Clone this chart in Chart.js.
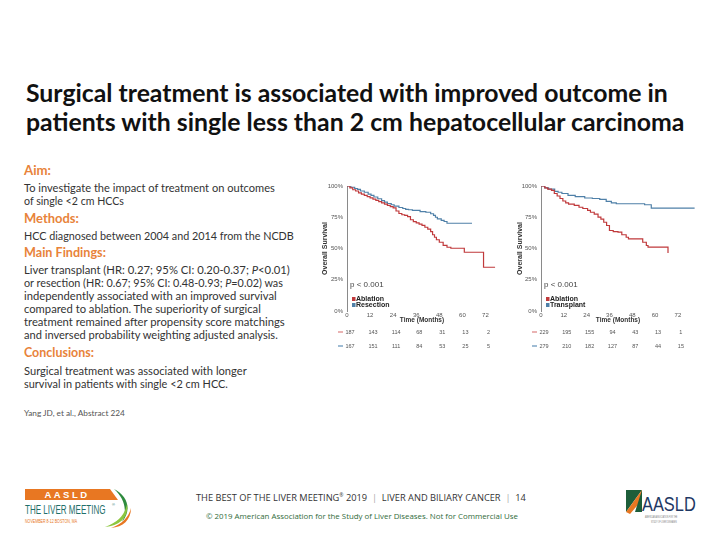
<!DOCTYPE html>
<html><head><meta charset="utf-8">
<script src="https://cdn.jsdelivr.net/npm/chart.js@4.4.0/dist/chart.umd.min.js"></script>
<style>
html,body{margin:0;padding:0;background:#fff;}
body{width:720px;height:540px;position:relative;overflow:hidden;font-family:Lato,"Open Sans",sans-serif;}
.t{position:absolute;white-space:nowrap;line-height:1;transform:translateY(-50%);}
.title{font-weight:bold;color:#111;font-size:24px;}
.h{font-weight:bold;color:#E8833A;font-size:13px;}
.b{color:#333;font-size:11px;}
canvas{position:absolute;}
</style></head><body>

<div class="t title" style="left:26px;top:93px" data-w="642">Surgical treatment is associated with improved outcome in</div>
<div class="t title" style="left:26px;top:121px" data-w="659">patients with single less than 2 cm hepatocellular carcinoma</div>

<div class="t h" style="left:24px;top:171px" data-w="27">Aim:</div>
<div class="t b" style="left:24px;top:188px" data-w="251">To investigate the impact of treatment on outcomes</div>
<div class="t b" style="left:24px;top:201px" data-w="100">of single &lt;2 cm HCCs</div>
<div class="t h" style="left:24px;top:218px" data-w="55">Methods:</div>
<div class="t b" style="left:24px;top:236px" data-w="270">HCC diagnosed between 2004 and 2014 from the NCDB</div>
<div class="t h" style="left:24px;top:253px" data-w="82">Main Findings:</div>
<div class="t b" style="left:24px;top:270px" data-w="266">Liver transplant (HR: 0.27; 95% CI: 0.20-0.37; <i>P</i>&lt;0.01)</div>
<div class="t b" style="left:24px;top:283px" data-w="259">or resection (HR: 0.67; 95% CI: 0.48-0.93; <i>P</i>=0.02) was</div>
<div class="t b" style="left:24px;top:296px" data-w="253">independently associated with an improved survival</div>
<div class="t b" style="left:24px;top:309px" data-w="237">compared to ablation. The superiority of surgical</div>
<div class="t b" style="left:24px;top:322px" data-w="261">treatment remained after propensity score matchings</div>
<div class="t b" style="left:24px;top:335px" data-w="254">and inversed probability weighting adjusted analysis.</div>
<div class="t h" style="left:24px;top:353px" data-w="70">Conclusions:</div>
<div class="t b" style="left:24px;top:371px" data-w="223">Surgical treatment was associated with longer</div>
<div class="t b" style="left:24px;top:384px" data-w="204">survival in patients with single &lt;2 cm HCC.</div>
<div class="t" style="left:24px;top:413px;font-size:8px;color:#555" data-w="101">Yang JD, et al., Abstract 224</div>

<canvas id="c1" width="200" height="180" style="left:310px;top:176px"></canvas>
<canvas id="c2" width="210" height="180" style="left:505px;top:176px"></canvas>

<!-- footer: left logo -->
<svg style="position:absolute;left:22px;top:486px" width="112" height="44" viewBox="0 0 112 44">
  <path d="M3 3 H88 L96 14 H3 Z" fill="#E87722"/>
  <text x="45" y="12" font-family="Liberation Sans, Arial" font-weight="bold" font-size="9.5" fill="#fff" text-anchor="middle" letter-spacing="2.5">AASLD</text>
  <g transform="translate(3,28) scale(0.62,1)">
    <text x="0" y="0" font-family="Liberation Sans, Arial" font-size="13" fill="#1f6f6a">THE LIVER MEETING</text>
  </g>
  <text x="90" y="20" font-family="Liberation Sans" font-size="4" fill="#1f6f6a">®</text>
  <g transform="translate(3,37) scale(0.8,1)">
    <text x="0" y="0" font-family="Liberation Sans" font-size="4.5" fill="#E87722">NOVEMBER 8-12 BOSTON, MA</text>
  </g>
  <path d="M92 3 C106 10 110 24 100 36 C106 24 102 12 92 3 Z" fill="#2e8b3e"/>
  <path d="M105 18 C107 30 99 40 83 41 C97 36 103 28 105 18 Z" fill="#8dc63f"/>
  <path d="M109 22 C109 34 101 41 89 42 C101 38 107 30 109 22 Z" fill="#E87722"/>
</svg>

<div class="t" style="left:196px;top:498px;font-family:'Open Sans',sans-serif;font-size:8.5px;color:#333" data-w="331">THE BEST OF THE LIVER MEETING<sup style="font-size:5px">®</sup> 2019 &nbsp;<span style="color:#aaa">|</span>&nbsp; LIVER AND BILIARY CANCER &nbsp;<span style="color:#aaa">|</span>&nbsp; 14</div>
<div class="t" style="left:206px;top:517px;font-family:'Open Sans',sans-serif;font-size:7px;color:#2f6b3a" data-w="312">© 2019 American Association for the Study of Liver Diseases. Not for Commercial Use</div>

<!-- footer: right logo -->
<svg style="position:absolute;left:622px;top:486px" width="92" height="42" viewBox="0 0 92 42">
  <path d="M4 4 L20 4 L4 26 Z" fill="#1d5e3a"/>
  <path d="M4 26 L20 4 L20 14 L8 28 Z" fill="#E87722"/>
  <path d="M20 4 L20 26 L13 26 Z" fill="#1d5e3a"/>
  <g transform="translate(20,25) scale(0.78,1)">
    <text x="0" y="0" font-family="Liberation Sans, Arial" font-size="21" fill="#1f3864">AASLD</text>
  </g>
  <g transform="translate(23,32) scale(0.6,1)">
    <text x="0" y="0" font-family="Liberation Sans" font-size="3.2" fill="#777">AMERICAN ASSOCIATION FOR THE</text>
  </g>
  <g transform="translate(29,37) scale(0.6,1)">
    <text x="0" y="0" font-family="Liberation Sans" font-size="3.2" fill="#777">STUDY OF LIVER DISEASES</text>
  </g>
</svg>

<script>
// ---------- data ----------
const tickMonths = [0, 12, 24, 36, 48, 60, 72];
const yTicks = [0, 25, 50, 75, 100];

// Left panel: Ablation vs Resection
const leftNames = ["Ablation", "Resection"];
const leftAblationMonths = [0, 1.5, 3, 4.5, 6, 7.5, 9, 10.5, 12, 13.5, 15, 16.5, 18, 19.5, 21, 22.5, 24, 25.5, 27, 28.5, 30, 31.5, 33, 34.5, 36, 37.5, 39, 40.5, 42, 43.5, 44.5, 45.5, 46.5, 48, 50, 52, 54, 61, 71, 77];
const leftAblationSurv   = [100, 98.5, 97, 96, 94.5, 93.5, 92.5, 91.5, 90.5, 89.5, 88.5, 87.5, 86.5, 85.5, 84.5, 83.5, 82.5, 80, 78, 77, 76.5, 75.5, 73, 71.5, 70.5, 69.5, 68.5, 67, 65.5, 63.5, 61, 59, 57, 55, 52.5, 51, 50.2, 47, 35, 35];
const leftResectionMonths = [0, 2, 4, 5.5, 7, 9, 11, 12.5, 14, 16, 18, 19.5, 21, 23, 24.5, 27, 29, 30.5, 32, 34, 38, 41, 43.5, 45, 46, 47, 49, 50.5, 52, 65];
const leftResectionSurv   = [100, 99, 98, 97.3, 96, 95, 93.5, 92.5, 91.2, 89.8, 88.3, 87.1, 86, 85, 83.9, 82.8, 82, 81.3, 81, 80.5, 79.5, 79, 77.8, 76.5, 75, 73.7, 72.5, 71.6, 70.2, 70.2];
const leftAblationRisk  = [187, 143, 114, 68, 31, 13, 2];
const leftResectionRisk = [167, 151, 111, 84, 53, 25, 5];

// Right panel: Ablation vs Transplant
const rightNames = ["Ablation", "Transplant"];
const rightAblationMonths = [0, 2, 3.5, 5.5, 7, 8.5, 10, 11.5, 13, 14.5, 17.5, 20, 22, 24.5, 26, 28, 30, 31.5, 33, 34.5, 36, 38, 40.5, 42.5, 44.8, 46, 53.5, 55.4, 56.3, 66.8];
const rightAblationSurv   = [100, 98.5, 97.5, 96.5, 94, 92, 90, 88, 86.5, 85.5, 84.5, 83, 82, 80.5, 79, 77.5, 75.1, 73.5, 71, 68.4, 64.4, 63.5, 63.1, 61, 59, 57.7, 55, 52.4, 51.1, 46.5];
const rightTransplantMonths = [0, 2, 4, 7.2, 9, 11, 14.2, 18, 23, 27, 30.9, 34.3, 37, 39.6, 54.5, 58, 80.8];
const rightTransplantSurv   = [100, 98.5, 97.5, 95.7, 95, 94, 92.5, 91.5, 90.4, 90, 89.3, 87.7, 86.5, 85.8, 85, 82.3, 82.3];
const rightAblationRisk   = [229, 195, 155, 94, 43, 13, 1];
const rightTransplantRisk = [279, 210, 182, 127, 87, 44, 15];

const pText = "p < 0.001";

// ---------- fit text widths ----------
document.querySelectorAll('[data-w]').forEach(el => {
  const w = +el.dataset.w;
  const r = el.getBoundingClientRect().width;
  const fs = parseFloat(getComputedStyle(el).fontSize);
  el.style.fontSize = (fs * w / r) + 'px';
});

// ---------- charts ----------
const RED = '#c0393b', BLUE = '#4f80a8';
const RED_LIGHT = '#e39a9a', BLUE_LIGHT = '#7fa6c6';
const FAM = '"Liberation Sans", Arial, sans-serif';

const overlay = {
  id: 'overlay',
  afterDatasetsDraw(chart, args, opts) {
    const {ctx, chartArea: ca, scales: {x}} = chart;
    ctx.save();
    ctx.fillStyle = '#444';
    ctx.font = '8px ' + FAM;
    ctx.textBaseline = 'middle';
    ctx.textAlign = 'left';
    ctx.fillText(opts.p, ca.left + 3, ca.bottom - 26);
    const rows = [ca.bottom - 12, ca.bottom - 6];
    opts.names.forEach((n, i) => {
      ctx.fillStyle = i === 0 ? RED : BLUE;
      ctx.fillRect(ca.left + 5, rows[i] - 2, 3.5, 4);
      ctx.fillStyle = '#222';
      ctx.font = 'bold 7px ' + FAM;
      ctx.fillText(n, ca.left + 9, rows[i]);
    });
    const ry = [ca.bottom + 21, ca.bottom + 35];
    opts.risk.forEach((arr, i) => {
      ctx.strokeStyle = i === 0 ? RED_LIGHT : BLUE_LIGHT;
      ctx.lineWidth = 1.5;
      ctx.beginPath();
      ctx.moveTo(ca.left - 9, ry[i]);
      ctx.lineTo(ca.left - 4, ry[i]);
      ctx.stroke();
      ctx.fillStyle = '#555';
      ctx.font = '5.5px ' + FAM;
      ctx.textAlign = 'center';
      arr.forEach((v, k) => {
        ctx.fillText(String(v), x.getPixelForValue(tickMonths[k]) + 3, ry[i]);
      });
      ctx.textAlign = 'left';
    });
    ctx.restore();
  }
};

function pts(t, s) { return t.map((v, i) => ({x: v, y: s[i]})); }

function makeChart(id, names, t1, s1, t2, s2, risk1, risk2, xmax, padR, yW) {
  return new Chart(document.getElementById(id), {
    type: 'line',
    data: {
      datasets: [
        {label: names[0], data: pts(t1, s1), borderColor: RED, borderWidth: 1.2, stepped: true, pointRadius: 0, fill: false},
        {label: names[1], data: pts(t2, s2), borderColor: BLUE, borderWidth: 1.2, stepped: true, pointRadius: 0, fill: false}
      ]
    },
    options: {
      responsive: false, animation: false, devicePixelRatio: 1,
      layout: {padding: {left: 0, right: padR, top: 10, bottom: 25}},
      plugins: {
        legend: {display: false}, tooltip: {enabled: false},
        overlay: {p: pText, names: names, risk: [risk1, risk2]}
      },
      scales: {
        x: {
          type: 'linear', min: 0, max: xmax,
          afterBuildTicks: s => { s.ticks = tickMonths.map(v => ({value: v})); },
          afterFit: s => { s.height = 20; },
          ticks: {font: {size: 6, family: FAM}, color: '#555', padding: 1, maxRotation: 0, autoSkip: false},
          grid: {display: false, drawTicks: false},
          border: {display: false},
          title: {display: true, text: 'Time (Months)', font: {size: 6.5, weight: 'bold', family: FAM}, color: '#333', padding: {top: 0, bottom: 7}}
        },
        y: {
          min: 0, max: 100,
          afterBuildTicks: s => { s.ticks = yTicks.map(v => ({value: v})); },
          afterFit: s => { s.width = yW; },
          ticks: {callback: v => v + '%', font: {size: 6, family: FAM}, color: '#555', padding: 4},
          grid: {display: false, drawTicks: false},
          border: {display: true, color: '#8a8a8a', width: 1},
          title: {display: true, text: 'Overall Survival', font: {size: 7, weight: 'bold', family: FAM}, color: '#333', padding: {top: 11, bottom: 0}}
        }
      }
    },
    plugins: [overlay]
  });
}

makeChart('c1', leftNames, leftAblationMonths, leftAblationSurv, leftResectionMonths, leftResectionSurv,
          leftAblationRisk, leftResectionRisk, 78, 13, 37);
makeChart('c2', rightNames, rightAblationMonths, rightAblationSurv, rightTransplantMonths, rightTransplantSurv,
          rightAblationRisk, rightTransplantRisk, 81, 20, 36);
</script>
</body></html>
